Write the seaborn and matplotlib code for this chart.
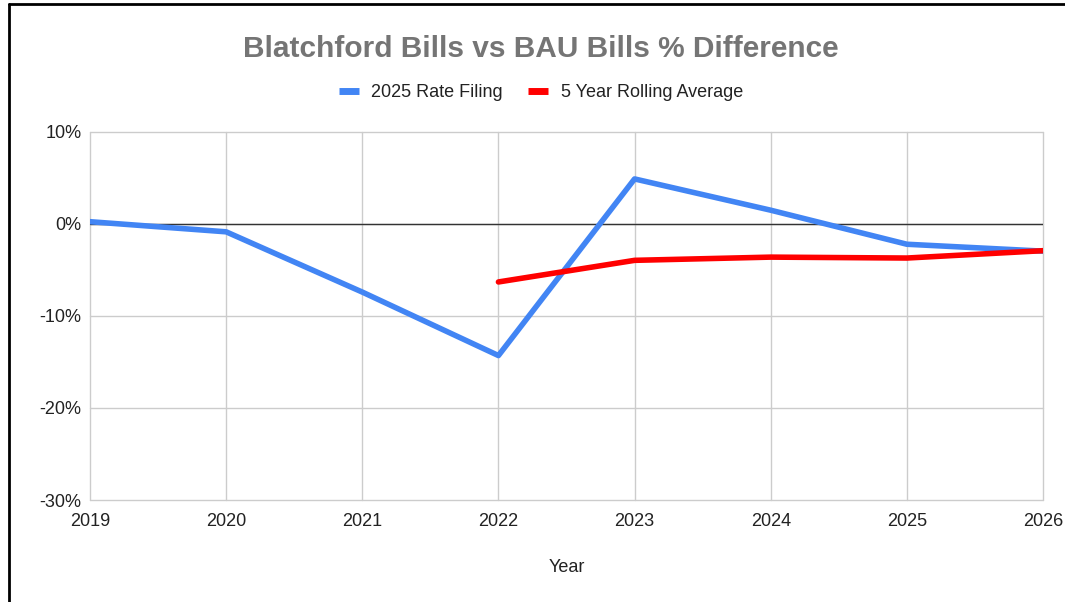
import numpy as np
import pandas as pd
import matplotlib
matplotlib.use("Agg")
import matplotlib.pyplot as plt
from matplotlib.lines import Line2D
from matplotlib.ticker import FuncFormatter
import seaborn as sns

# Datos
years = [2019, 2020, 2021, 2022, 2023, 2024, 2025, 2026]
rate_filing = [0.25, -0.85, -7.4, -14.3, 4.9, 1.5, -2.2, -2.95]
rolling_avg = [np.nan, np.nan, np.nan, -6.3, -3.95, -3.6, -3.7, -2.9]
series_names = ["2025 Rate Filing", "5 Year Rolling Average"]
series_colors = ["#4285F4", "#FF0000"]
y_ticks = [-30, -20, -10, 0, 10]

df = pd.DataFrame({
    "Year": years * 2,
    "Value": rate_filing + rolling_avg,
    "Serie": [series_names[0]] * len(years) + [series_names[1]] * len(years),
})
df = df.dropna()

sns.set_theme(style="white")
plt.rcParams["font.family"] = ["Liberation Sans", "DejaVu Sans"]

fig = plt.figure(figsize=(10.65, 6.02), dpi=100)
ax = fig.add_axes([90 / 1065, 102 / 602, 953 / 1065, 368 / 602])

grid_color = "#cccccc"
for yr in years:
    ax.axvline(yr, color=grid_color, lw=1, zorder=0, clip_on=False)
for t in y_ticks:
    ax.axhline(t, color=grid_color, lw=1, zorder=0, clip_on=False)
ax.axhline(0, color="#333333", lw=1, zorder=1)

sns.lineplot(data=df, x="Year", y="Value", hue="Serie",
             palette=dict(zip(series_names, series_colors)),
             linewidth=4, ax=ax, legend=False, zorder=3)

ax.set_xlim(years[0], years[-1])
ax.set_ylim(-30, 10)
ax.set_xticks(years)
ax.set_yticks(y_ticks)
ax.yaxis.set_major_formatter(FuncFormatter(lambda v, p: f"{int(v)}%"))
ax.tick_params(axis="both", labelsize=13, colors="#222222", length=0)
ax.tick_params(axis="x", pad=9)
ax.tick_params(axis="y", pad=6)
for s in ax.spines.values():
    s.set_visible(False)
ax.set_xlabel("Year", fontsize=13, color="#222222", labelpad=21)
ax.set_ylabel("")

fig.text(0.508, 1 - 49 / 602, "Blatchford Bills vs BAU Bills % Difference",
         ha="center", va="center", fontsize=21.5, fontweight="bold", color="#757575")

handles = [Line2D([0], [0], color=c, lw=5, solid_capstyle="butt") for c in series_colors]
fig.legend(handles, series_names, loc="center", bbox_to_anchor=(0.508, 1 - 93 / 602),
           ncol=2, frameon=False, fontsize=13, handlelength=1.1, columnspacing=1.4,
           handletextpad=0.7, labelcolor="#222222")

# marco del recorte
fig.add_artist(Line2D([9 / 1065, 9 / 1065], [0, 1 - 4 / 602], color="black", lw=2))
fig.add_artist(Line2D([9 / 1065, 1], [1 - 4 / 602, 1 - 4 / 602], color="black", lw=2))

fig.savefig("out.png", dpi=100)
